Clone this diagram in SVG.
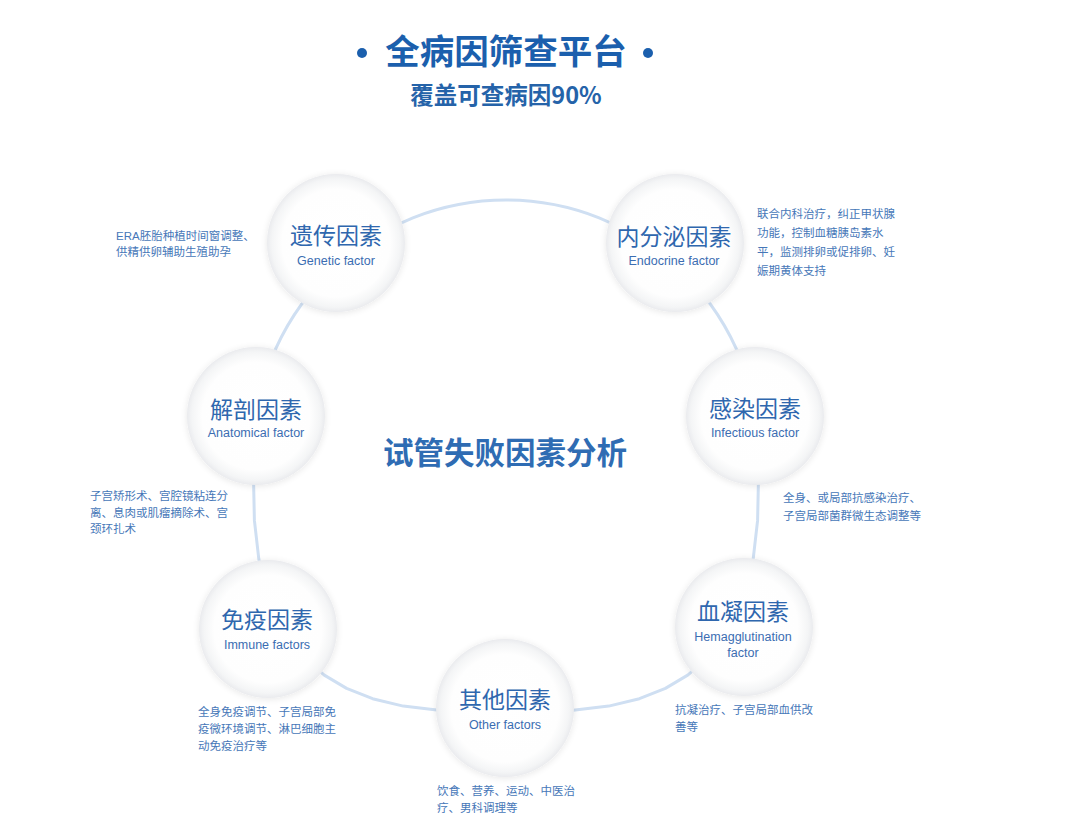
<svg xmlns="http://www.w3.org/2000/svg" width="1080" height="840" viewBox="0 0 1080 840">
<defs>
<radialGradient id="ballFill" cx="50%" cy="50%" r="50%">
<stop offset="0" stop-color="#ffffff"/>
<stop offset="0.78" stop-color="#fefefe"/>
<stop offset="0.93" stop-color="#f4f5f6"/>
<stop offset="1" stop-color="#eaebee"/>
</radialGradient>
<filter id="shadow" x="-20%" y="-20%" width="140%" height="140%">
<feGaussianBlur in="SourceAlpha" stdDeviation="3.5"/>
<feOffset dx="0" dy="1" result="b"/>
<feComponentTransfer><feFuncA type="linear" slope="0.1"/></feComponentTransfer>
<feMerge><feMergeNode/><feMergeNode in="SourceGraphic"/></feMerge>
</filter>
<style>
.ball{fill:url(#ballFill);filter:url(#shadow);}
.cn{font-family:"Noto Sans CJK SC","Liberation Sans",sans-serif;font-size:23px;fill:#2f67ae;text-anchor:middle;}
.en{font-family:"Liberation Sans","Noto Sans CJK SC",sans-serif;font-size:12.5px;fill:#3b6db2;text-anchor:middle;}
.desc{font-family:"Liberation Sans","Noto Sans CJK SC",sans-serif;font-size:11.5px;fill:#4677b8;}
.ring{fill:none;stroke:#cfdff2;stroke-width:3;stroke-linejoin:round;}
</style>
</defs>
<rect width="1080" height="840" fill="#ffffff"/>

<g id="header">
<circle cx="362" cy="53" r="5" fill="#1b5fad"/>
<circle cx="648" cy="53" r="5" fill="#1b5fad"/>
<text x="506" y="64" font-family="Noto Sans CJK SC, sans-serif" font-size="34.5" font-weight="700" fill="#1b5fad" text-anchor="middle">全病因筛查平台</text>
<text x="506" y="104" font-family="Noto Sans CJK SC, sans-serif" font-size="23.5" font-weight="700" fill="#2563a9" text-anchor="middle">覆盖可查病因90%</text>
</g>

<g id="connectors">
<path class="ring" d="M253,454 A253,254 0 0 1 759,454 L757.6,520.4 L753.2,558.8 L746,590 L735.9,616.5 L722.8,639.3 L706.8,658.8 L687.7,675.1 L665.4,688.4 L639.4,698.7 L608.7,706.1 L571.1,710.5 L506,712 L440.9,710.5 L403.3,706.1 L372.6,698.7 L346.6,688.4 L324.3,675.1 L305.2,658.8 L289.2,639.3 L276.1,616.5 L266,590 L258.8,558.8 L254.4,520.4 Z"/>
</g>

<g id="center-title">
<text x="505" y="464" font-family="Noto Sans CJK SC, sans-serif" font-size="30.5" font-weight="700" fill="#2f6cb3" text-anchor="middle">试管失败因素分析</text>
</g>

<g id="node-genetic">
<circle class="ball" cx="336" cy="243" r="69"/>
<text class="cn" x="336" y="244">遗传因素</text>
<text class="en" x="336" y="265">Genetic factor</text>
<text class="desc" x="116" y="240">ERA胚胎种植时间窗调整、</text>
<text class="desc" x="116" y="256">供精供卵辅助生殖助孕</text>
</g>

<g id="node-endocrine">
<circle class="ball" cx="675" cy="243" r="69"/>
<text class="cn" x="674" y="245">内分泌因素</text>
<text class="en" x="674" y="265">Endocrine factor</text>
<text class="desc" x="757" y="218">联合内科治疗，纠正甲状腺</text>
<text class="desc" x="757" y="237">功能，控制血糖胰岛素水</text>
<text class="desc" x="757" y="256">平，监测排卵或促排卵、妊</text>
<text class="desc" x="757" y="275">娠期黄体支持</text>
</g>

<g id="node-anatomical">
<circle class="ball" cx="256" cy="416" r="69"/>
<text class="cn" x="256" y="418">解剖因素</text>
<text class="en" x="256" y="437">Anatomical factor</text>
<text class="desc" x="90" y="500">子宫矫形术、宫腔镜粘连分</text>
<text class="desc" x="90" y="517">离、息肉或肌瘤摘除术、宫</text>
<text class="desc" x="90" y="533">颈环扎术</text>
</g>

<g id="node-infectious">
<circle class="ball" cx="755" cy="416" r="69"/>
<text class="cn" x="755" y="417">感染因素</text>
<text class="en" x="755" y="437">Infectious factor</text>
<text class="desc" x="783" y="502">全身、或局部抗感染治疗、</text>
<text class="desc" x="783" y="520">子宫局部菌群微生态调整等</text>
</g>

<g id="node-immune">
<circle class="ball" cx="268" cy="629" r="69"/>
<text class="cn" x="267" y="628">免疫因素</text>
<text class="en" x="267" y="649">Immune factors</text>
<text class="desc" x="198" y="716">全身免疫调节、子宫局部免</text>
<text class="desc" x="198" y="733">疫微环境调节、淋巴细胞主</text>
<text class="desc" x="198" y="750">动免疫治疗等</text>
</g>

<g id="node-other">
<circle class="ball" cx="505" cy="708" r="69"/>
<text class="cn" x="505" y="708">其他因素</text>
<text class="en" x="505" y="729">Other factors</text>
<text class="desc" x="437" y="795">饮食、营养、运动、中医治</text>
<text class="desc" x="437" y="812">疗、男科调理等</text>
</g>

<g id="node-hemagglutination">
<circle class="ball" cx="744" cy="627" r="69"/>
<text class="cn" x="743" y="620">血凝因素</text>
<text class="en" x="743" y="641">Hemagglutination</text>
<text class="en" x="743" y="657">factor</text>
<text class="desc" x="675" y="714">抗凝治疗、子宫局部血供改</text>
<text class="desc" x="675" y="731">善等</text>
</g>
</svg>
